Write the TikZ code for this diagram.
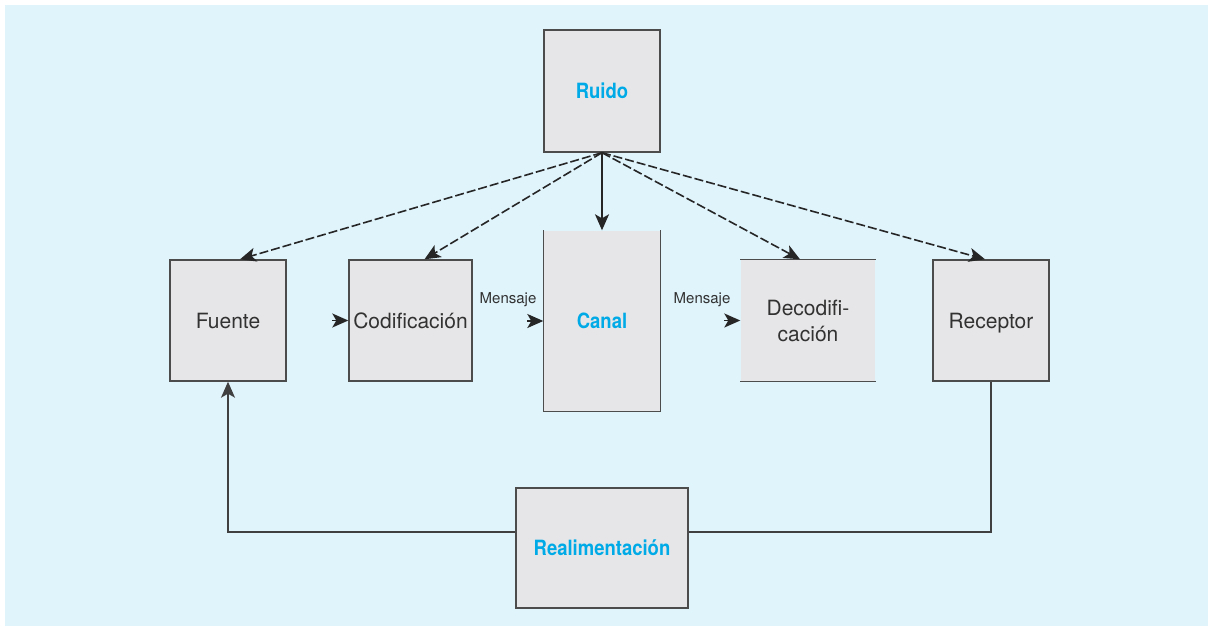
\documentclass[tikz,border=0pt]{standalone}
\usepackage{fontspec}
\setmainfont{TeX Gyre Heros}
\newfontfamily\condbold[FakeStretch=0.88]{TeX Gyre Heros Bold}
\usetikzlibrary{arrows.meta}
\definecolor{bgblue}{RGB}{224,244,252}
\definecolor{boxgray}{RGB}{230,230,232}
\definecolor{labelblue}{RGB}{0,170,230}
\definecolor{textgray}{RGB}{50,50,50}
\begin{document}
\begin{tikzpicture}[x=0.5pt, y=-0.5pt, font=\fontsize{10.5}{13}\selectfont]
        \tikzset{
            block/.style={
                draw=black!70,
                line width=0.7pt,
                fill=boxgray,
                text=textgray,
                inner sep=0pt,
                align=center
            },
            keyblock/.style={
                block,
                text=labelblue,
                font=\fontsize{10.5}{13}\condbold
            },
            noisearrow/.style={-{Stealth[length=8pt,width=7pt,inset=2pt]}, line width=0.8pt,
                draw=black!85, dash pattern=on 4.5pt off 1.5pt},
            arrow/.style={-{Stealth[length=8pt,width=7pt,inset=2pt]}, line width=0.8pt, draw=black!85},
            msgtip/.style={-{Stealth[length=8pt,width=7pt,inset=2pt]}, line width=0.8pt, draw=black!85},
            feedline/.style={line width=0.7pt, draw=black!75}
        }

        \useasboundingbox (0,0) rectangle (1208,626);
        \fill[bgblue] (5,5) rectangle (1208,626);

        \node[keyblock, minimum width=58pt, minimum height=61pt] (ruido) at (602, 91) {Ruido};
        \node[block, minimum width=58pt, minimum height=60.5pt] (fuente) at (228, 320.5) {Fuente};
        \node[block, minimum width=61.5pt, minimum height=60.5pt] (codif) at (410.5, 320.5) {Codificación};
        \node[keyblock, draw=none, minimum width=58pt, minimum height=90pt] (canal) at (602, 321) {Canal};
        \node[block, draw=none, minimum width=67pt, minimum height=60.5pt] (decodif) at (808, 320.5) {Decodifi-\\cación};
        \node[block, text depth=0pt, minimum width=58pt, minimum height=60.5pt] (receptor) at (991, 320.5) {Receptor};
        \node[keyblock, minimum width=86pt, minimum height=60pt] (realim) at (602, 548) {Realimentación};

        \draw[black!70, line width=0.7pt]
            (canal.north west) -- (canal.south west) -- (canal.south east) -- (canal.north east);
        \draw[black!70, line width=0.7pt] (decodif.north west) -- (decodif.north east);
        \draw[black!70, line width=0.7pt] (decodif.south west) -- (decodif.south east);

        \node[text=textgray, font=\fontsize{7.5}{9}\selectfont] (msgA) at (508, 300) {Mensaje};
        \node[text=textgray, font=\fontsize{7.5}{9}\selectfont] (msgB) at (702, 300) {Mensaje};

        \draw[noisearrow] (ruido.south) -- ([xshift=6pt]fuente.north);
        \draw[noisearrow] (ruido.south) -- ([xshift=7pt]codif.north);
        \draw[arrow] (ruido.south) -- (canal.north);
        \draw[noisearrow] (ruido.south) -- ([xshift=-4pt]decodif.north);
        \draw[noisearrow] (ruido.south) -- ([xshift=-3pt]receptor.north);

        \draw[msgtip] ([xshift=-8pt]codif.west) -- (codif.west);
        \draw[msgtip] ([xshift=-8pt]canal.west) -- (canal.west);
        \draw[msgtip] ([xshift=-8pt]decodif.west) -- (decodif.west);

        \draw[feedline] (receptor.south) |- ([yshift=8pt]realim.east);
        \draw[feedline, -{Stealth[length=8pt,width=7pt,inset=2pt]}] ([yshift=8pt]realim.west) -| (fuente.south);
    \end{tikzpicture}
\end{document}
